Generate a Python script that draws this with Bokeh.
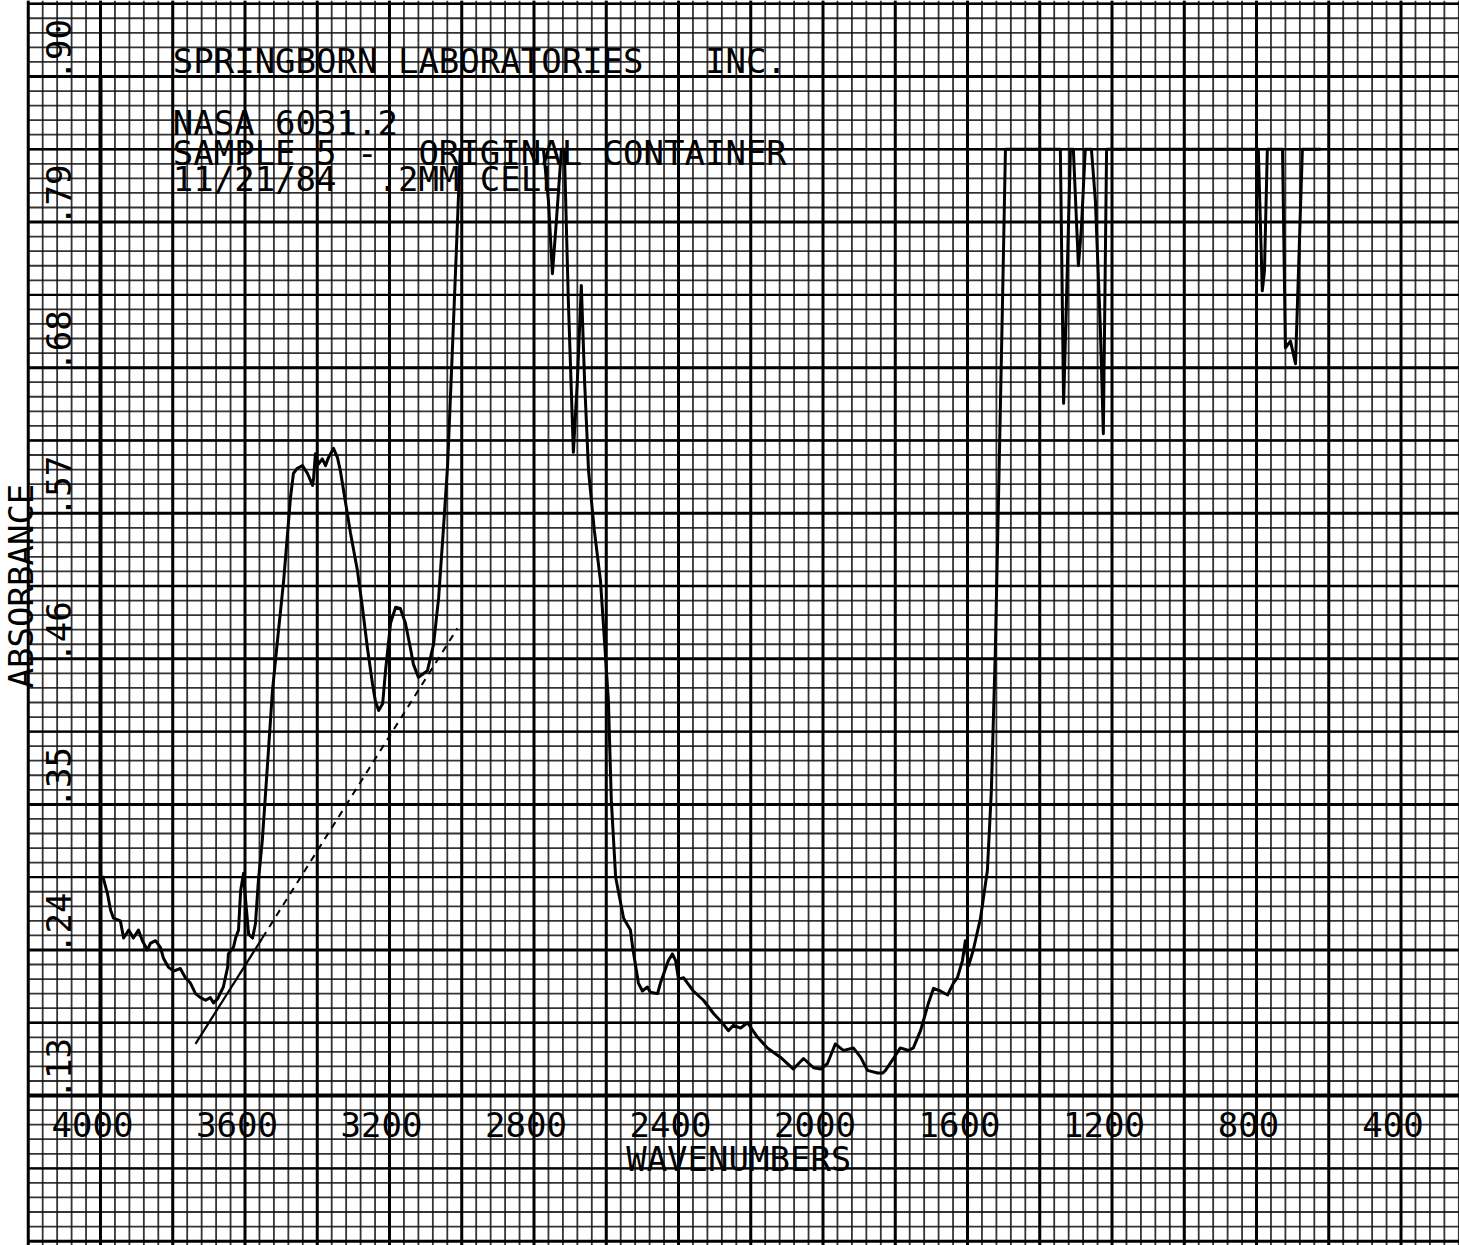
import numpy as np
from bokeh.plotting import figure
from bokeh.models import Range1d, ColumnDataSource
from bokeh.core.properties import value
from bokeh.embed import file_html
from bokeh.resources import INLINE

# ---------------- data ----------------
wavenumber = [
    3994, 3981, 3972, 3964, 3945, 3936, 3922, 3909, 3895, 3884,
    3870, 3862, 3848, 3834, 3826, 3812, 3798, 3779, 3765, 3751,
    3737, 3723, 3709, 3696, 3687, 3676, 3660, 3648, 3646, 3632,
    3626, 3618, 3612, 3604, 3599, 3590, 3579, 3571, 3563, 3552,
    3535, 3524, 3510, 3493, 3474, 3466, 3455, 3441, 3427, 3413,
    3410, 3405, 3397, 3386, 3377, 3369, 3355, 3344, 3336, 3327,
    3308, 3289, 3275, 3261, 3247, 3239, 3230, 3219, 3211, 3197,
    3183, 3170, 3156, 3142, 3134, 3120, 3095, 3078, 3064, 3051,
    3039, 3026, 3015, 3004, 2774, 2760, 2749, 2738, 2724, 2716,
    2705, 2691, 2680, 2669, 2660, 2649, 2633, 2616, 2605, 2594,
    2586, 2574, 2552, 2533, 2527, 2511, 2500, 2486, 2478, 2458,
    2450, 2428, 2417, 2408, 2400, 2386, 2375, 2359, 2331, 2303,
    2276, 2262, 2248, 2228, 2209, 2181, 2154, 2118, 2082, 2054,
    2026, 2007, 1988, 1966, 1943, 1916, 1896, 1877, 1849, 1835,
    1827, 1805, 1786, 1763, 1750, 1730, 1708, 1694, 1675, 1655,
    1639, 1628, 1614, 1606, 1597, 1584, 1564, 1545, 1534, 1523,
    1512, 1503, 1495, 1343, 1334, 1326, 1315, 1307, 1293, 1285,
    1274, 1257, 1246, 1232, 1224, 1215, 795, 784, 778, 770,
    728, 720, 706, 692, 673, 623,
]
absorbance = [
    0.296, 0.283, 0.270, 0.264, 0.262, 0.249, 0.255, 0.249, 0.255, 0.247,
    0.240, 0.245, 0.247, 0.242, 0.234, 0.227, 0.224, 0.226, 0.219, 0.215,
    0.207, 0.204, 0.202, 0.204, 0.200, 0.203, 0.212, 0.227, 0.237, 0.242,
    0.249, 0.255, 0.285, 0.298, 0.280, 0.252, 0.249, 0.260, 0.292, 0.323,
    0.391, 0.436, 0.474, 0.519, 0.582, 0.600, 0.604, 0.606, 0.600, 0.591,
    0.597, 0.615, 0.607, 0.611, 0.606, 0.612, 0.619, 0.612, 0.602, 0.587,
    0.555, 0.527, 0.499, 0.468, 0.441, 0.428, 0.421, 0.426, 0.451, 0.487,
    0.499, 0.498, 0.487, 0.468, 0.456, 0.446, 0.451, 0.471, 0.506, 0.557,
    0.607, 0.693, 0.768, 0.845, 0.845, 0.806, 0.751, 0.791, 0.845, 0.845,
    0.731, 0.616, 0.670, 0.742, 0.670, 0.602, 0.557, 0.519, 0.474, 0.428,
    0.353, 0.295, 0.264, 0.255, 0.242, 0.215, 0.209, 0.212, 0.208, 0.207,
    0.215, 0.232, 0.237, 0.232, 0.218, 0.219, 0.215, 0.209, 0.202, 0.192,
    0.184, 0.179, 0.183, 0.181, 0.185, 0.174, 0.166, 0.159, 0.150, 0.158,
    0.151, 0.150, 0.154, 0.169, 0.164, 0.166, 0.159, 0.149, 0.147, 0.147,
    0.149, 0.158, 0.166, 0.164, 0.166, 0.179, 0.200, 0.211, 0.209, 0.206,
    0.215, 0.219, 0.232, 0.247, 0.228, 0.240, 0.264, 0.300, 0.360, 0.466,
    0.610, 0.731, 0.845, 0.845, 0.653, 0.731, 0.845, 0.845, 0.757, 0.784,
    0.845, 0.845, 0.806, 0.708, 0.630, 0.845, 0.845, 0.738, 0.753, 0.845,
    0.845, 0.695, 0.700, 0.683, 0.845, 0.845,
]

# hand-drawn baseline under the 3400 band
baseline_solid_wn = [3737, 3552]
baseline_solid_a = [0.169, 0.249]
baseline_dash_wn = [3552, 3012]
baseline_dash_a = [0.249, 0.483]

x_tick_values = [4000, 3600, 3200, 2800, 2400, 2000, 1600, 1200, 800, 400]
x_tick_labels = ["4000", "3600", "3200", "2800", "2400", "2000", "1600", "1200", "800", "400"]
y_tick_values = [0.13, 0.24, 0.35, 0.46, 0.57, 0.68, 0.79, 0.90]
y_tick_labels = [".13", ".24", ".35", ".46", ".57", ".68", ".79", ".90"]

NB = "\u00a0"
header_lines = [
    "SPRINGBORN" + NB + "LABORATORIES" + NB * 3 + "INC.",
    "NASA" + NB + "6031.2",
    "SAMPLE" + NB + "5" + NB + "-" + NB * 2 + "ORIGINAL" + NB + "CONTAINER",
    "11/21/84" + NB * 2 + ".2MM" + NB + "CELL",
]
header_offsets_px = [-15, 47, 77, 103]
x_title = "WAVENUMBERS"
y_title = "ABSORBANCE"

# ---------------- figure ----------------
X_START, X_END = 4276.8, 238.1
Y_START, Y_END = 0.0167, 0.9574
GRID_LEFT = 4200

p = figure(width=1459, height=1245,
           x_range=Range1d(X_START, X_END), y_range=Range1d(Y_START, Y_END),
           output_backend="svg", toolbar_location=None,
           x_axis_location=None, y_axis_location=None, min_border=0)
p.grid.visible = False
p.outline_line_color = None
p.background_fill_color = "white"
p.border_fill_color = "white"

FONT = value("DejaVu Sans Mono")
FSIZE = value("34px")

# ---------------- chart-paper grid ----------------
x_minor = np.arange(GRID_LEFT, X_END, -40.0)
x_major = np.arange(GRID_LEFT, X_END, -200.0)
ks = np.arange(-10, 76)
ks = ks[(0.13 + 0.011 * ks > Y_START) & (0.13 + 0.011 * ks < Y_END)]
y_minor = 0.13 + 0.011 * ks
y_medium = 0.13 + 0.011 * ks[(ks % 5 == 0) & (ks % 10 != 0)]
y_major = 0.13 + 0.011 * ks[ks % 10 == 0]

def vlines(xs, width, color="black", alpha=1.0):
    p.segment(x0=xs, y0=[Y_START] * len(xs), x1=xs, y1=[Y_END] * len(xs),
              line_color=color, line_width=width, line_alpha=alpha)

def hlines(ys, width, color="black", alpha=1.0):
    p.segment(x0=[GRID_LEFT] * len(ys), y0=ys, x1=[X_END] * len(ys), y1=ys,
              line_color=color, line_width=width, line_alpha=alpha)

vlines(x_minor, 1.8, "#111111", 0.85)
hlines(y_minor, 1.8, "#111111", 0.85)
hlines(y_medium, 2.4)
vlines(x_major, 3.0)
hlines(y_major, 3.0)

# axes emphasis
p.line(x=[x_tick_values[0]] * 2, y=[y_tick_values[0], y_tick_values[-1]],
       line_color="black", line_width=4)
p.line(x=[GRID_LEFT, X_END], y=[y_tick_values[0]] * 2, line_color="black", line_width=4)

# ---------------- spectrum ----------------
p.line(x=wavenumber, y=absorbance, line_color="black", line_width=3, line_join="round")
p.line(x=baseline_solid_wn, y=baseline_solid_a, line_color="black", line_width=2.2)
p.line(x=baseline_dash_wn, y=baseline_dash_a, line_color="black", line_width=2,
       line_dash="7 6")

# ---------------- texts ----------------
src_x = ColumnDataSource(dict(x=x_tick_values, y=[y_tick_values[0]] * len(x_tick_values),
                              t=x_tick_labels))
p.text(x="x", y="y", text="t", source=src_x, text_font=FONT, text_font_size=FSIZE,
       text_align="center", text_baseline="alphabetic", x_offset=-8, y_offset=29,
       text_color="black")

src_y = ColumnDataSource(dict(x=[x_tick_values[0]] * len(y_tick_values), y=y_tick_values,
                              t=y_tick_labels))
p.text(x="x", y="y", text="t", source=src_y, text_font=FONT, text_font_size=FSIZE,
       text_align="left", text_baseline="alphabetic", angle=np.pi / 2,
       x_offset=-42, y_offset=4, text_color="black")

p.text(x=[float(np.mean(x_tick_values))], y=[y_tick_values[0]], text=[x_title],
       text_font=FONT, text_font_size=FSIZE, text_align="center",
       text_baseline="alphabetic", x_offset=-12, y_offset=63, text_color="black")

p.text(x=[x_tick_values[0]], y=[float(np.mean(y_tick_values))], text=[y_title],
       text_font=FONT, text_font_size=FSIZE, text_align="center",
       text_baseline="alphabetic", angle=np.pi / 2, x_offset=-79, text_color="black")

src_h = ColumnDataSource(dict(x=[3800] * len(header_lines), y=[y_tick_values[-1]] * len(header_lines),
                              t=header_lines, yo=header_offsets_px))
p.text(x="x", y="y", text="t", y_offset="yo", source=src_h, text_font=FONT,
       text_font_size=FSIZE, text_align="left", text_baseline="alphabetic",
       text_color="black")

open("out.html", "w").write(file_html(p, INLINE))
